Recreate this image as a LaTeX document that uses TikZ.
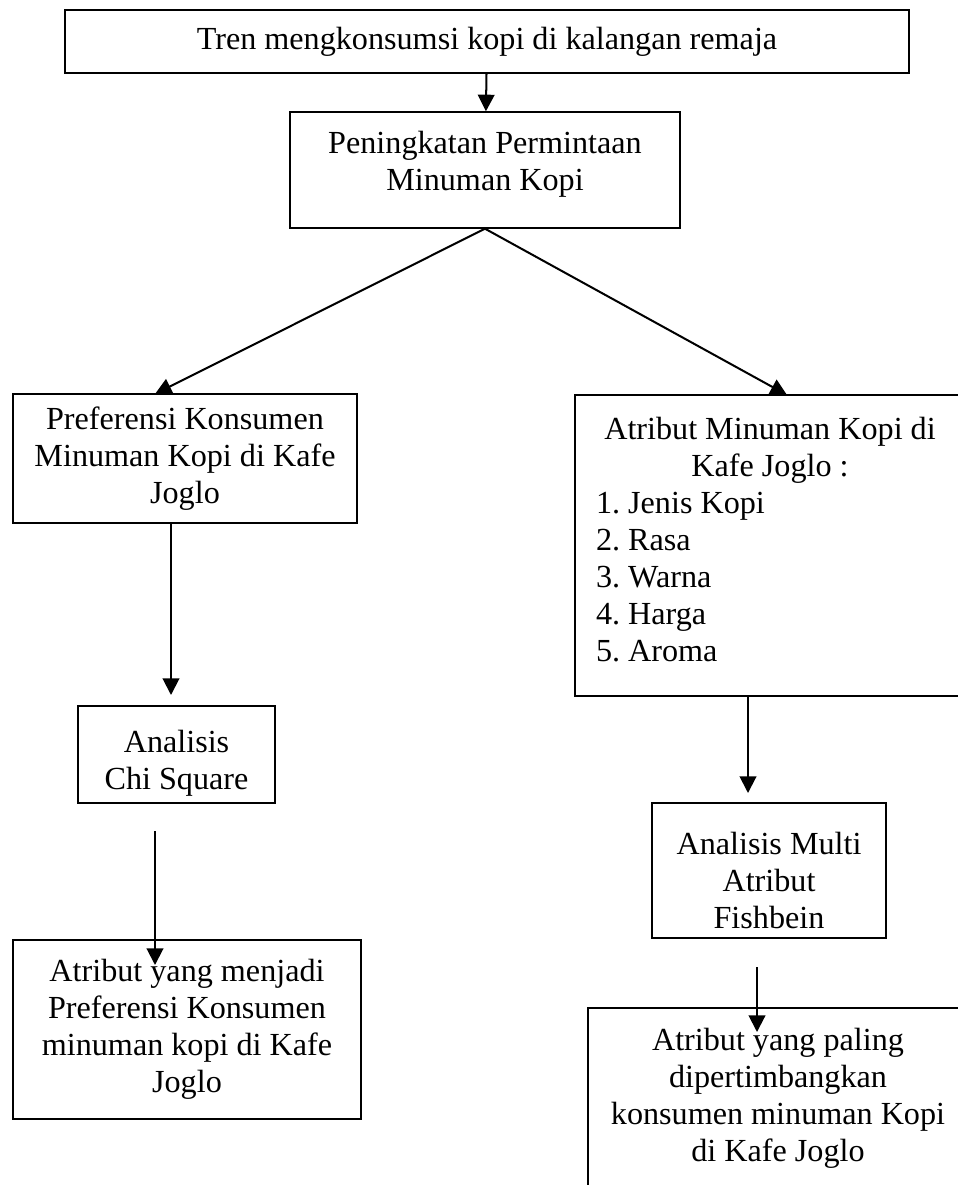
\documentclass[tikz,border=0pt]{standalone}
\usepackage{fontspec}
\setmainfont{Liberation Serif}
\usetikzlibrary{calc,arrows.meta}
\tikzset{
    box/.style={draw,line width=0.5pt,align=center,inner sep=0pt,
                font=\fontsize{12}{13.8}\selectfont\frenchspacing},   % the framed boxes
    arr/.style={line width=0.75pt,-{Triangle[width=6.2pt,length=6.2pt]}}
}

\begin{document}
\begin{tikzpicture}[x=0.3731pt,y=-0.3731pt]
    \useasboundingbox (0,0) rectangle (957,1185);

    % top of the chart
    \node[box,minimum width=314.9pt,minimum height=23.5pt] (trend) at (487,41.5) {Tren mengkonsumsi kopi di kalangan remaja};
    \node[box,minimum width=145.5pt,minimum height=43.3pt] (demand) at (485,170) {Peningkatan Permintaan\\Minuman Kopi\\[-7pt]};

    % left branch
    \node[box,minimum width=128.3pt,minimum height=48.1pt] (pref) at (185,458.5) {Preferensi Konsumen\\Minuman Kopi di Kafe\\Joglo};
    \node[box,minimum width=73.5pt,minimum height=36.2pt] (chi) at (176.5,754.5) {\\[0.7pt]Analisis\\Chi Square};
    \node[box,minimum width=129.8pt,minimum height=66.8pt] (resA) at (187,1029.5) {Atribut yang menjadi\\Preferensi Konsumen\\minuman kopi di Kafe\\Joglo};

    % right branch
    \node[box,minimum width=145.5pt,minimum height=112.3pt,text width=129.8pt,align=left] (attr) at (770,545.5)
        {\spaceskip=0pt\xspaceskip=0pt
         \makebox[\linewidth]{Atribut Minuman Kopi di}\\\makebox[\linewidth]{Kafe Joglo :}\\1. Jenis Kopi\\2. Rasa\\3. Warna\\4. Harga\\5. Aroma\rule[-4.8pt]{0pt}{4.8pt}};
    \node[box,minimum width=87.3pt,minimum height=50.4pt] (fish) at (769,870.5) {\\[2.2pt]Analisis Multi\\Atribut\\Fishbein};
    \node[box,minimum width=141.8pt,minimum height=67.2pt] (resB) at (778,1098) {Atribut yang paling\\dipertimbangkan\\konsumen minuman Kopi\\di Kafe Joglo};

    % arrow ends
    \coordinate (leftTip) at (155,394);
    \coordinate (rightTip) at (787,395);
    \coordinate (chiTip) at (171,695);
    \coordinate (resAstart) at (155,831);
    \coordinate (resATip) at (155,965);
    \coordinate (fishTip) at (748,793);
    \coordinate (resBstart) at (757,967);
    \coordinate (resBTip) at (757,1032);

    \draw[arr] (trend) -- (demand);
    \draw[arr] (demand.south) -- (leftTip);
    \draw[arr] (demand.south) -- (rightTip);
    \draw[arr] (pref.south -| chiTip) -- (chiTip);
    \draw[arr] (resAstart) -- (resATip);
    \draw[arr] (attr.south -| fishTip) -- (fishTip);
    \draw[arr] (resBstart) -- (resBTip);
\end{tikzpicture}
\end{document}
